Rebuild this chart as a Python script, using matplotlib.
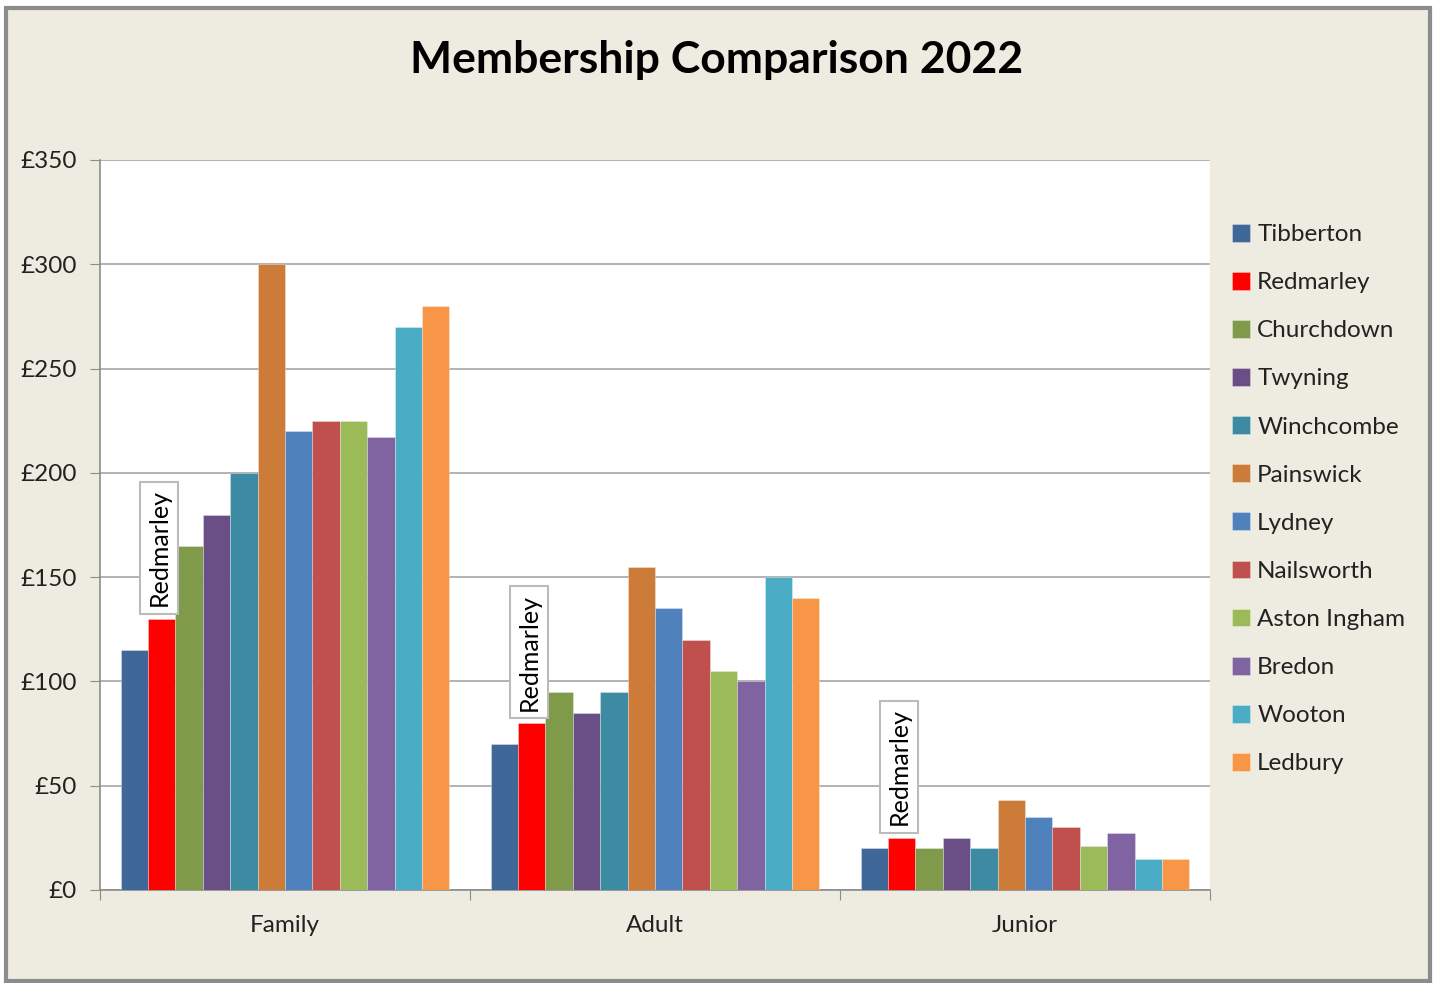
import numpy as np
import matplotlib
matplotlib.use("Agg")
import matplotlib.pyplot as plt
from matplotlib.patches import Rectangle
from matplotlib.ticker import FuncFormatter

plt.rcParams['font.family'] = ['Lato', 'DejaVu Sans']

# 数据
categories = ["Family", "Adult", "Junior"]
clubs = ["Tibberton", "Redmarley", "Churchdown", "Twyning", "Winchcombe", "Painswick",
         "Lydney", "Nailsworth", "Aston Ingham", "Bredon", "Wooton", "Ledbury"]
family = [115, 130, 165, 180, 200, 300, 220, 225, 225, 217, 270, 280]
adult = [70, 80, 95, 85, 95, 155, 135, 120, 105, 100, 150, 140]
junior = [20, 25, 20, 25, 20, 43, 35, 30, 21, 27.5, 15, 15]
colors = ["#3F6899", "#FF0000", "#7F9A48", "#6A4F86", "#3C8BA2", "#CC7B38",
          "#4F81BD", "#C0504D", "#9BBB59", "#8064A2", "#4BACC6", "#F79646"]

bg = "#EEEBE0"
fig = plt.figure(figsize=(14.35, 9.83), dpi=100)
fig.patch.set_facecolor("white")
# 外框
fig.patches.append(Rectangle((6 / 1435, 0.002), 1424 / 1435, (983 - 8 - 2) / 983,
                             transform=fig.transFigure, facecolor=bg,
                             edgecolor="#8C8C8C", linewidth=3, zorder=-1))

ax = fig.add_axes([100 / 1435, 93 / 983, 1110 / 1435, 730 / 983])
ax.set_facecolor("white")
ax.set_zorder(1)

values = np.array([family, adult, junior])
n = len(clubs)
w = 1 / (n + 1.5)
x = np.arange(len(categories)) + 0.5
for i, club in enumerate(clubs):
    pos = x + (i - (n - 1) / 2) * w
    ax.bar(pos, values[:, i], width=w, color=colors[i], label=club,
           edgecolor=(1, 1, 1, 0.35), linewidth=0.6, zorder=3)
    if club == "Redmarley":
        for px, v in zip(pos, values[:, i]):
            ax.annotate(club, (px, v), xytext=(-2, 9), textcoords="offset points",
                        rotation=90, ha="center", va="bottom", fontsize=18, color="black",
                        bbox=dict(boxstyle="square,pad=0.3", fc="white", ec="#BBBBBB", lw=1.5),
                        zorder=5)

ax.set_xlim(0, 3)
ax.set_ylim(0, 350)
ax.set_yticks(np.arange(0, 351, 50))
ax.yaxis.set_major_formatter(FuncFormatter(lambda v, p: "£%d" % v))
ax.yaxis.grid(True, color="#A6A6A6", linewidth=1.2, zorder=0)
ax.set_axisbelow(True)
ax.set_xticks([0, 1, 2, 3])
ax.set_xticklabels([])
ax.set_xticks(x, minor=True)
ax.set_xticklabels(categories, minor=True)
ax.tick_params(axis="x", which="minor", length=0, pad=18, labelsize=17.5, labelcolor="#222222")
ax.tick_params(axis="x", which="major", length=7, color="#8C8C8C", direction="out")
ax.tick_params(axis="y", length=7, color="#8C8C8C", labelsize=17.5, labelcolor="#222222", pad=10)
for s in ["top", "right"]:
    ax.spines[s].set_visible(False)
for s in ["left", "bottom"]:
    ax.spines[s].set_color("#8C8C8C")
    ax.spines[s].set_linewidth(1.2)

fig.text(717 / 1435, 1 - 60 / 983, "Membership Comparison 2022", ha="center", va="center",
         fontsize=32, fontweight="bold", color="black")

leg = fig.legend(loc="upper left", bbox_to_anchor=(1222 / 1435, 1 - 214 / 983), frameon=False,
                 fontsize=17.5, handlelength=0.75, handleheight=0.75, handletextpad=0.3,
                 labelspacing=1.1, borderaxespad=0)
for t in leg.get_texts():
    t.set_color("#222222")

fig.savefig("out.png", dpi=100, facecolor=fig.get_facecolor())
